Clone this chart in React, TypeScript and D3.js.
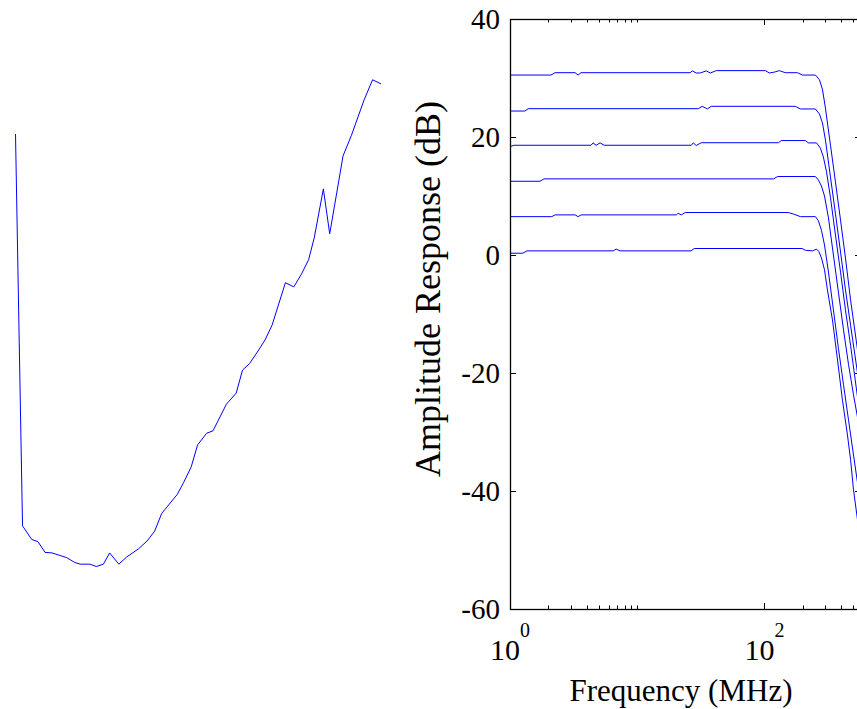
import { useRef, useEffect } from "react";
import * as d3 from "d3";

const W = 857;
const H = 709;

// left panel: single trace, no axes shown [sample, value]
const leftTrace: [number, number][] = [
  [0, 80.5], [1, 14.1], [2.3, 11.8], [3.2, 11.4], [4.2, 9.6], [5.2, 9.5], [7.3, 8.7],
  [8.4, 7.9], [9.2, 7.6], [10.6, 7.6], [11.5, 7.2], [12.5, 7.6], [13.4, 9.5], [14.7, 7.6],
  [15.8, 8.8], [17.5, 10.2], [18.7, 11.5], [19.8, 13.2], [20.8, 16.2], [23.0, 19.4],
  [23.9, 21.4], [25.0, 24.1], [25.9, 27.8], [27.2, 29.8], [28.1, 30.2], [30.0, 34.7],
  [31.4, 36.6], [32.3, 40.5], [33.3, 41.6], [34.6, 43.9], [35.5, 45.6], [36.5, 48.1],
  [38.4, 55.3], [39.6, 54.6], [40.7, 56.8], [41.7, 59.2], [42.5, 62.9], [43.8, 71.2],
  [44.7, 63.6], [45.7, 70.5], [46.6, 76.8], [47.8, 80.3], [49.6, 86.3], [50.8, 89.7],
  [52.0, 89.0],
];

// right panel: amplitude response curves [MHz, dB]
const gain30: [number, number][] = [
  [1, 30.5], [2.1, 30.5], [2.26, 30.9], [3.25, 30.9], [3.43, 30.5], [3.62, 30.9],
  [26.1, 30.9], [27.1, 31.2], [29.1, 30.85], [31.3, 30.85], [34.9, 31.2], [37.6, 30.85],
  [41.9, 31.25], [101.8, 31.25], [109.5, 30.85], [120, 31.0], [131, 31.25], [146, 30.9],
  [182, 30.9], [199, 30.5], [252, 30.5], [271, 29.7], [286, 28.1], [302, 24.9],
  [331, 18.6], [362, 12.4], [397, 5.9], [434, -0.5], [476, -7.6], [540, -16.1], [580, -20.3],
];
const gain24: [number, number][] = [
  [1, 24.4], [1.31, 24.4], [1.39, 24.8], [30.2, 24.8], [32.5, 25.2], [35.6, 24.75],
  [38.2, 25.2], [175, 25.2], [192, 24.75], [252, 24.75], [271, 23.9], [286, 22.4],
  [302, 19.5], [331, 13.2], [362, 7.0], [397, 0.5], [434, -5.9], [476, -11.9],
  [540, -20.0], [580, -23.7],
];
const gain18: [number, number][] = [
  [1, 18.35], [1.075, 18.6], [4.34, 18.6], [4.5, 19.0], [4.75, 18.6], [5.11, 19.0],
  [5.5, 18.6], [26.6, 18.6], [27.6, 19.0], [29.1, 18.56], [31.9, 19.03], [129, 19.03],
  [136, 19.4], [210, 19.4], [222, 19.0], [257, 19.0], [276, 18.1], [291, 16.6],
  [308, 14.1], [331, 9.7], [362, 3.4], [397, -2.9], [434, -9.3], [476, -15.3],
  [540, -24.1], [580, -27.6],
];
const gain12: [number, number][] = [
  [1, 12.5], [1.72, 12.5], [1.85, 12.9], [118, 12.9], [127, 13.3], [252, 13.3],
  [266, 12.7], [281, 11.7], [297, 10.0], [319, 6.3], [349, 0.0], [382, -6.3],
  [419, -12.7], [459, -18.6], [502, -23.7], [540, -27.5], [580, -30.0],
];
const gain6: [number, number][] = [
  [1, 6.5], [2.13, 6.5], [2.26, 6.8], [3.25, 6.8], [3.43, 6.5], [3.62, 6.8],
  [20.3, 6.8], [21.0, 7.07], [22.2, 6.8], [23.9, 7.2], [154, 7.2], [169, 6.95],
  [192, 6.5], [252, 6.5], [266, 5.8], [281, 4.2], [297, 1.7], [319, -2.9],
  [349, -9.3], [382, -15.8], [419, -22.0], [459, -28.0], [502, -33.9], [540, -38.6],
  [580, -42.4],
];
const gain0: [number, number][] = [
  [1, 0.3], [1.26, 0.3], [1.36, 0.7], [6.47, 0.7], [6.83, 1.0], [7.35, 0.7],
  [26.5, 0.7], [28.1, 1.1], [198, 1.1], [210, 0.8], [239, 0.7], [257, 1.0],
  [268, 0.6], [281, -0.5], [297, -2.5], [313, -5.9], [343, -11.0], [376, -17.8],
  [411, -24.6], [450, -30.5], [476, -34.7], [502, -39.8], [540, -44.9], [580, -48.3],
];
const curves = [gain30, gain24, gain18, gain12, gain6, gain0];

const yTicks = [-60, -40, -20, 0, 20, 40];
const xMajor = [1, 100];
const xMajorLabels = ["0", "2"];
const xMinor = [2, 3, 4, 5, 6, 7, 8, 9, 10, 200, 300, 400, 500];

const FONT = "'Liberation Serif', 'Times New Roman', serif";

export default function App() {
  const svgRef = useRef<SVGSVGElement>(null);

  useEffect(() => {
    const svg = d3.select(svgRef.current);
    svg.selectAll("*").remove();

    // ---- left panel (axes hidden) ----
    const lx = d3.scaleLinear().domain([0, 52]).range([15.5, 381]);
    const ly = d3.scaleLinear().domain([0, 100]).range([609, 19]);
    svg.append("path")
      .datum(leftTrace)
      .attr("fill", "none")
      .attr("stroke", "#0000ff")
      .attr("stroke-width", 1)
      .attr("d", d3.line<[number, number]>().x(d => lx(d[0])).y(d => ly(d[1])));

    // ---- right panel ----
    const left = 510, right = 861, top = 19, bottom = 609;
    const x = d3.scaleLog().domain([1, 575]).range([left, right]);
    const y = d3.scaleLinear().domain([-60, 40]).range([bottom, top]);

    svg.append("defs").append("clipPath").attr("id", "plotclip")
      .append("rect").attr("x", left).attr("y", top)
      .attr("width", right - left).attr("height", bottom - top);

    const line = d3.line<[number, number]>().x(d => x(d[0])).y(d => y(d[1]));
    const g = svg.append("g").attr("clip-path", "url(#plotclip)");
    curves.forEach(c => {
      g.append("path")
        .datum(c)
        .attr("fill", "none")
        .attr("stroke", "#0000ff")
        .attr("stroke-width", 1)
        .attr("d", line);
    });

    const ax = svg.append("g").attr("stroke", "#000").attr("stroke-width", 1).attr("fill", "none");
    ax.append("rect")
      .attr("x", left + 0.5).attr("y", top + 0.5)
      .attr("width", right - left).attr("height", bottom - top)
      .attr("stroke-width", 1.3);

    // y ticks both sides
    yTicks.forEach(t => {
      const yy = Math.round(y(t)) + 0.5;
      ax.append("line").attr("x1", left).attr("x2", left + 6).attr("y1", yy).attr("y2", yy);
      ax.append("line").attr("x1", right - 6).attr("x2", right).attr("y1", yy).attr("y2", yy);
    });
    // x ticks top and bottom
    xMajor.forEach(t => {
      const xx = Math.round(x(t)) + 0.5;
      ax.append("line").attr("x1", xx).attr("x2", xx).attr("y1", bottom).attr("y2", bottom - 6);
      ax.append("line").attr("x1", xx).attr("x2", xx).attr("y1", top).attr("y2", top + 6);
    });
    xMinor.forEach(t => {
      const xx = Math.round(x(t)) + 0.5;
      ax.append("line").attr("x1", xx).attr("x2", xx).attr("y1", bottom).attr("y2", bottom - 3.5);
      ax.append("line").attr("x1", xx).attr("x2", xx).attr("y1", top).attr("y2", top + 3.5);
    });

    // y tick labels
    svg.append("g")
      .selectAll("text")
      .data(yTicks)
      .join("text")
      .attr("x", left - 10)
      .attr("y", d => y(d))
      .attr("dy", "0.34em")
      .attr("text-anchor", "end")
      .attr("font-family", FONT)
      .attr("font-size", 29)
      .attr("fill", "#000")
      .text(d => String(d));

    // x tick labels 10^n
    xMajor.forEach((t, i) => {
      const txt = svg.append("text")
        .attr("x", x(t))
        .attr("y", 660)
        .attr("text-anchor", "middle")
        .attr("font-family", FONT)
        .attr("font-size", 30)
        .attr("fill", "#000");
      txt.append("tspan").text("10");
      txt.append("tspan").attr("font-size", 20).attr("dy", -23).text(xMajorLabels[i]);
    });

    svg.append("text")
      .attr("x", 681)
      .attr("y", 701)
      .attr("text-anchor", "middle")
      .attr("font-family", FONT)
      .attr("font-size", 31)
      .attr("fill", "#000")
      .text("Frequency (MHz)");

    svg.append("text")
      .attr("transform", "translate(440,289) rotate(-90)")
      .attr("text-anchor", "middle")
      .attr("font-family", FONT)
      .attr("font-size", 36)
      .attr("fill", "#000")
      .text("Amplitude Response (dB)");
  }, []);

  return (
    <svg
      ref={svgRef}
      width={W}
      height={H}
      style={{ position: "absolute", left: 0, top: 0, background: "#fff" }}
    />
  );
}
